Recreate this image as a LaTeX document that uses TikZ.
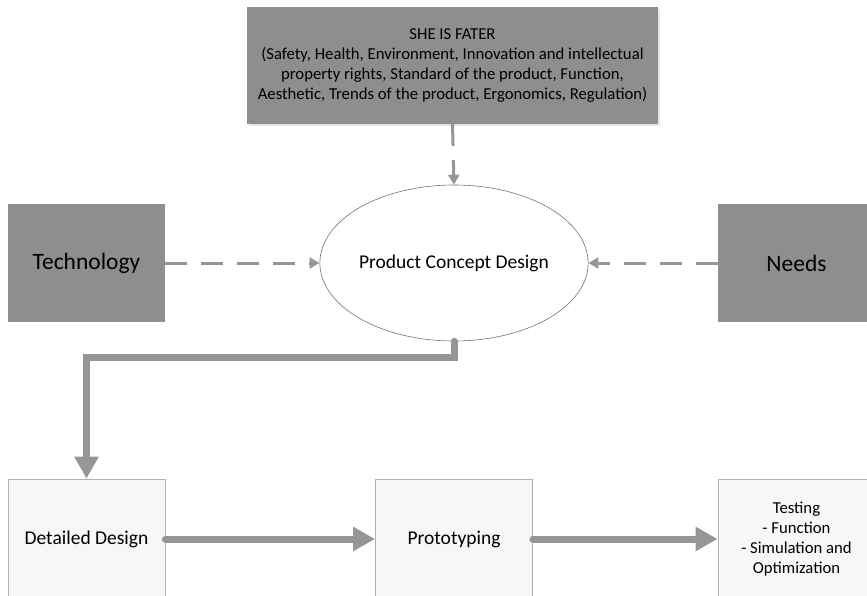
\documentclass[tikz,border=0pt]{standalone}
\usepackage{fontspec}
\setmainfont{Carlito}
\usetikzlibrary{arrows.meta,shapes.geometric,shadows}
\definecolor{boxgray}{RGB}{142,142,142}
\definecolor{arrowgray}{RGB}{150,150,150}
\definecolor{edgegray}{RGB}{178,178,178}
\definecolor{paper}{RGB}{247,247,247}
\def\smallfont{\fontsize{16.7}{20}\selectfont}
\def\midfont{\fontsize{19.5}{23}\selectfont}
\def\bigfont{\fontsize{23.5}{28}\selectfont}
\tikzset{
	darkbox/.style={fill=boxgray, minimum width=157pt, minimum height=118pt, inner sep=0pt, font=\bigfont},
	lightbox/.style={draw=edgegray, line width=0.8pt, fill=paper, minimum width=157pt, minimum height=120pt, inner sep=0pt, font=\midfont},
	dasharrow/.style={draw=arrowgray, line width=3pt, dash pattern=on 22pt off 14pt, -{Triangle[width=11pt,length=10pt]}},
	bigarrow/.style={draw=arrowgray, line width=7pt, line cap=round, -{Triangle[width=23pt,length=22pt]}},
}

\begin{document}
\begin{tikzpicture}[x=1pt, y=-1pt]
		%%%%% START %%%%%
		
		\useasboundingbox (0, 0) rectangle (867, 596);
		
		\node[darkbox, minimum width=411pt, minimum height=117pt, font=\smallfont, align=center, drop shadow={shadow xshift=2pt, shadow yshift=-2pt, fill=black!20}] (fater) at (452.5, 65.5) {SHE IS FATER\\(Safety, Health, Environment, Innovation and intellectual\\property rights, Standard of the product, Function,\\Aesthetic, Trends of the product, Ergonomics, Regulation)};
		
		\node[ellipse, draw=black!55, line width=0.6pt, fill=white, minimum width=236pt, minimum height=156pt, inner sep=0pt, font=\midfont] (pcd) at (454, 263) {Product Concept Design};
		
		\node[darkbox] (tech) at (86.5, 263) {Technology};
		\node[darkbox] (needs) at (796.5, 263) {Needs};
		
		\node[lightbox] (detail) at (86.5, 539) {Detailed Design};
		\node[lightbox] (proto) at (454, 539) {Prototyping};
		\node[lightbox, font=\smallfont, align=center] (test) at (796.5, 539) {Testing\\- Function\\- Simulation and\\Optimization};
		
		\draw[dasharrow] (fater.south) -- (pcd.north);
		\draw[dasharrow] (tech.east) -- (pcd.west);
		\draw[dasharrow] (needs.west) -- (pcd.east);
		
		\draw[bigarrow] (pcd.south) -- ++(0, 16) -| (detail.north);
		\draw[bigarrow] (detail.east) -- (proto.west);
		\draw[bigarrow] (proto.east) -- (test.west);
		
		%%%%% END %%%%%
	\end{tikzpicture}
\end{document}
